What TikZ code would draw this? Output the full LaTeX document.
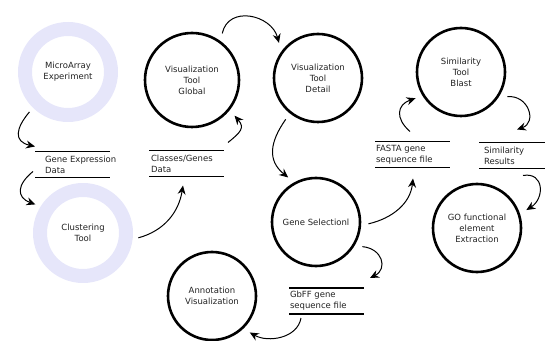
\documentclass[tikz,border=0pt]{standalone}
\usepackage{fontspec}
\setmainfont{DejaVu Sans}
\usepackage{tikz}
\usetikzlibrary{arrows.meta}
\usepackage{xcolor}
\definecolor{ringblue}{HTML}{E6E6FA}
\definecolor{inkgray}{HTML}{222222}

\begin{document}
\begin{tikzpicture}[
    x=1pt, y=1pt,
    font=\fontsize{8.5}{11}\selectfont,
    process/.style={circle, draw, line width=2.6pt, minimum size=88pt,
                    inner sep=0pt, outer sep=8.5pt, align=center, text=inkgray},
    source/.style={circle, draw=ringblue, line width=14pt, minimum size=86pt,
                   inner sep=0pt, outer sep=12.5pt, align=center, text=inkgray},
    store/.style={anchor=west, align=left, minimum height=26pt, inner ysep=0pt,
                  inner xsep=1pt, outer sep=0pt, text=inkgray},
    storeline/.style={line width=1.3pt},
    arrow/.style={-{Stealth[length=9pt, width=8pt, inset=3pt]}, line width=1pt}
]
  \useasboundingbox (0,0) rectangle (545,340);

  % Processes
  \node[source] (micro) at (68,268) {MicroArray\\Experiment};
  \node[source] (clust) at (83,107) {Clustering\\Tool};
  \node[process, minimum size=94pt] (glob) at (192,260) {Visualization\\Tool\\Global};
  \node[process] (detail) at (318,262) {Visualization\\Tool\\Detail};
  \node[process] (gsel) at (316,118) {Gene Selectionl};
  \node[process] (sim) at (461,268) {Similarity\\Tool\\Blast};
  \node[process] (goext) at (477,112) {GO functional\\element\\Extraction};
  \node[process] (annot) at (212,44) {Annotation\\Visualization};

  % Data stores
  \node[store, inner xsep=10pt] (gexp) at (35,175.5) {Gene Expression\\Data};
  \node[store, inner xsep=2pt] (cls) at (149,176.5) {Classes/Genes\\Data};
  \node[store] (fasta) at (375,185.5) {FASTA gene\\sequence file};
  \node[store, inner xsep=5pt] (simres) at (479,184.5) {Similarity\\Results};
  \node[store] (gbff) at (289,39) {GbFF gene\\sequence file};

  \foreach \s in {gexp,cls,fasta,simres,gbff}
    \draw[storeline] (\s.north west) -- ++(75,0) (\s.south west) -- ++(75,0);

  % Arrows
  \draw[arrow] (micro.226) to[out=230, in=167, looseness=1.6] ([yshift=5pt]gexp.north west);
  \draw[arrow] ([xshift=-2pt,yshift=6pt]gexp.south west) to[out=219, in=160, looseness=1.6] (clust.149);
  \draw[arrow] (clust.-5) to[out=15, in=261] ([xshift=34pt,yshift=-9pt]cls.south west);
  \draw[arrow] ([xshift=79pt,yshift=8pt]cls.north west) to[out=39, in=311, looseness=1.5] (glob.-40);
  \draw[arrow] (glob.57) to[out=78, in=105, looseness=1.3] (detail.138);
  \draw[arrow] (detail.232) to[out=235, in=141, looseness=1.2] (gsel.122);
  \draw[arrow] (gsel.-2) to[out=13, in=264] ([xshift=38pt,yshift=-11pt]fasta.south west);
  \draw[arrow] ([xshift=35pt,yshift=10pt]fasta.north west) to[out=139, in=199, looseness=1.5] (sim.210);
  \draw[arrow] (sim.-28) to[out=5, in=19, looseness=1.6] ([xshift=38pt,yshift=13pt]simres.north west);
  \draw[arrow] ([xshift=44pt,yshift=-7pt]simres.south west) to[out=10, in=32, looseness=1.6] (goext.20);
  \draw[arrow] (gsel.-28) to[out=-5, in=27, looseness=1.6] ([xshift=81pt,yshift=10pt]gbff.north west);
  \draw[arrow] ([xshift=12pt,yshift=-4pt]gbff.south west) to[out=260, in=-30] (annot.-44);
\end{tikzpicture}
\end{document}
